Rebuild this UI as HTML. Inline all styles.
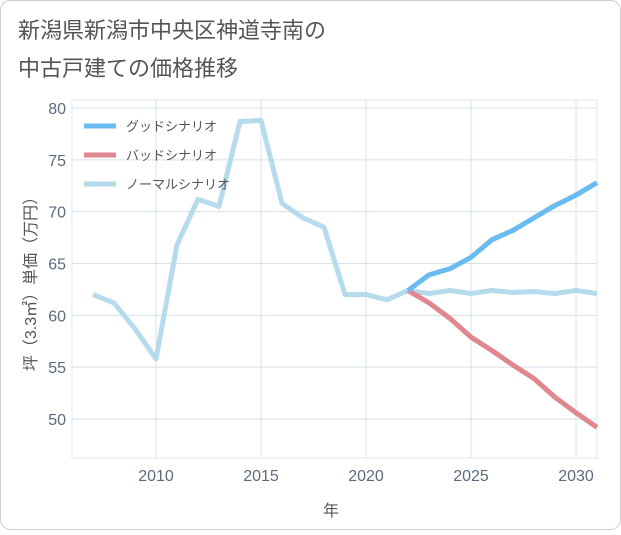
<!DOCTYPE html>
<html><head><meta charset="utf-8"><style>
body{margin:0;background:#fff;}
svg text{font-family:"Liberation Sans","Noto Sans CJK JP",sans-serif;}
</style></head><body>
<svg id="c" width="621" height="530" xmlns="http://www.w3.org/2000/svg">
<rect x="0.5" y="0.5" width="620" height="529" rx="10" fill="#fff" stroke="#ccc"/>
<text x="18" y="38" font-size="22" fill="#555">新潟県新潟市中央区神道寺南の</text>
<text x="18" y="76" font-size="22" fill="#555">中古戸建ての価格推移</text>
<g id="grid"></g><g id="series"></g><g id="legend"></g>
<text x="331" y="516" font-size="16" fill="#555" text-anchor="middle">年</text>
<text transform="translate(36,280) rotate(-90)" font-size="16" fill="#555" text-anchor="middle">坪（3.3㎡）単価（万円）</text>
</svg>
<script>
const years=[2007,2008,2009,2010,2011,2012,2013,2014,2015,2016,2017,2018,2019,2020,2021,2022,2023,2024,2025,2026,2027,2028,2029,2030,2031];
const normal=[62,61.2,58.7,55.8,66.8,71.2,70.5,78.7,78.8,70.8,69.4,68.5,62,62,61.5,62.4,62.1,62.4,62.1,62.4,62.2,62.3,62.1,62.4,62.1];
const goodYears=[2022,2023,2024,2025,2026,2027,2028,2029,2030,2031];
const good=[62.4,63.9,64.5,65.6,67.3,68.2,69.4,70.6,71.6,72.8];
const bad=[62.4,61.2,59.7,57.9,56.6,55.2,53.9,52.1,50.6,49.2];
const xTicks=[2010,2015,2020,2025,2030];
const yTicks=[50,55,60,65,70,75,80];
const L=72,R=597,T=100,B=458;
const x=v=>156+(v-2010)*(576-156)/20;
const y=v=>419-(v-50)*(419-108)/30;
const NS='http://www.w3.org/2000/svg';
function mk(t,a,p){const e=document.createElementNS(NS,t);for(const k in a)e.setAttribute(k,a[k]);p.appendChild(e);return e;}
const g=document.getElementById('grid');
const f=mk('rect',{x:L,y:T,width:R-L,height:B-T,fill:'none',stroke:'#e0e8ef'},g);


xTicks.forEach(t=>{const l=mk('line',{x1:x(t),x2:x(t),y1:T,y2:B,stroke:'#d6e1ea'},g);


const tx=mk('text',{x:x(t),y:B+23,'font-size':16,fill:'#5a6b80','text-anchor':'middle'},g);tx.textContent=t;

});
yTicks.forEach(t=>{const l=mk('line',{x1:L,x2:R,y1:y(t),y2:y(t),stroke:'#d6e1ea'},g);


const tx=mk('text',{x:L-6,y:y(t)+6,'font-size':16,fill:'#5a6b80','text-anchor':'end'},g);tx.textContent=t;

});
const s=document.getElementById('series');
function line(xs,vs,c,n){const p=mk('polyline',{points:xs.map((yr,i)=>x(yr)+','+y(vs[i])).join(' '),fill:'none',stroke:c,'stroke-width':5,'stroke-linejoin':'round'},s);

}
line(years,normal,'#b5dbec','normal-scenario-line');
line(goodYears,bad,'#e0868e','bad-scenario-line');
line(goodYears,good,'#69bbf0','good-scenario-line');
const lg=document.getElementById('legend');
[['グッドシナリオ','#69bbf0',126],['バッドシナリオ','#e0868e',155],['ノーマルシナリオ','#b5dbec',184]].forEach(([t,c,yy])=>{
const l=mk('line',{x1:84,x2:116,y1:yy,y2:yy,stroke:c,'stroke-width':5},lg);


const tx=mk('text',{x:126,y:yy+5,'font-size':13,fill:'#555'},lg);tx.textContent=t;

});
</script>
</body></html>
